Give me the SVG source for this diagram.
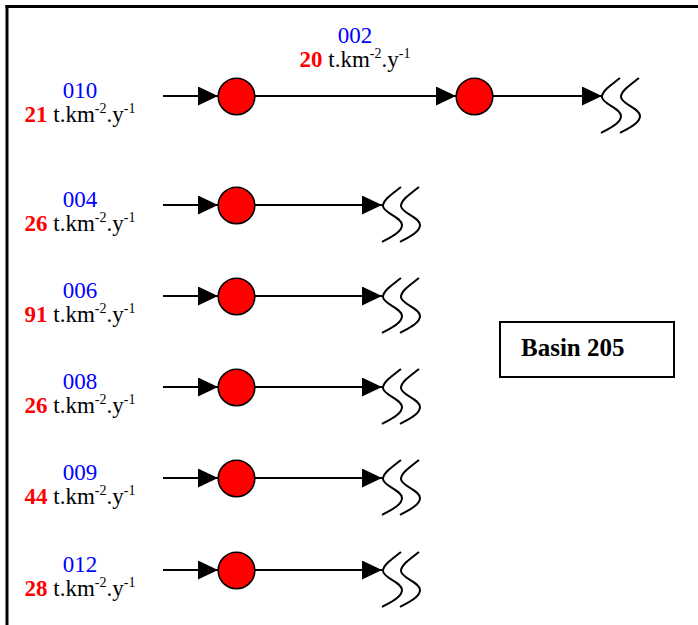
<svg xmlns="http://www.w3.org/2000/svg" width="698" height="625" viewBox="0 0 698 625">
<style>
.lbl{font-family:"Liberation Serif","Times New Roman",serif;font-size:23px;text-anchor:middle;fill:#000}
.id{fill:#0000ff}
.val{fill:#ff0000;font-weight:bold}
.sup{font-size:14px}
.ln{stroke:#000;stroke-width:2;fill:none}
.sq{stroke:#000;stroke-width:2;fill:none}
.node{fill:#ff0000;stroke:#000;stroke-width:1.6}
.box{fill:#fff;stroke:#000;stroke-width:2}
.bt{font-family:"Liberation Serif","Times New Roman",serif;font-size:25px;font-weight:bold;fill:#000}
</style>
<defs>
<marker id="ah" markerUnits="userSpaceOnUse" markerWidth="20" markerHeight="19" refX="20" refY="9.5" orient="auto">
<path d="M0,0 L20,9.5 L0,19 z" fill="#000"/>
</marker>
<path id="sq" d="M0,-18 C-10,-10 -18,-5 -18,1 C-18,8 1,12 1,20 C1,27 -10,32 -19,37"/>
</defs>
<rect width="698" height="625" fill="#fff"/>
<g id="frame">
<line x1="5.5" y1="6.5" x2="698" y2="6.5" stroke="#000" stroke-width="3"/>
<line x1="7" y1="5" x2="7" y2="625" stroke="#000" stroke-width="3"/>
</g>
<g id="connectors">
<line class="ln" x1="163" y1="96" x2="218" y2="96" marker-end="url(#ah)"/>
<line class="ln" x1="255" y1="96" x2="456" y2="96" marker-end="url(#ah)"/>
<line class="ln" x1="493" y1="96" x2="602" y2="96" marker-end="url(#ah)"/>
<line class="ln" x1="163" y1="205" x2="218" y2="205" marker-end="url(#ah)"/>
<line class="ln" x1="255" y1="205" x2="382" y2="205" marker-end="url(#ah)"/>
<line class="ln" x1="163" y1="296" x2="218" y2="296" marker-end="url(#ah)"/>
<line class="ln" x1="255" y1="296" x2="382" y2="296" marker-end="url(#ah)"/>
<line class="ln" x1="163" y1="387" x2="218" y2="387" marker-end="url(#ah)"/>
<line class="ln" x1="255" y1="387" x2="382" y2="387" marker-end="url(#ah)"/>
<line class="ln" x1="163" y1="478" x2="218" y2="478" marker-end="url(#ah)"/>
<line class="ln" x1="255" y1="478" x2="382" y2="478" marker-end="url(#ah)"/>
<line class="ln" x1="163" y1="570" x2="218" y2="570" marker-end="url(#ah)"/>
<line class="ln" x1="255" y1="570" x2="382" y2="570" marker-end="url(#ah)"/>
</g>
<g id="outlets">
<use href="#sq" class="sq" x="620" y="96"/><use href="#sq" class="sq" x="639" y="96"/>
<use href="#sq" class="sq" x="401" y="205"/><use href="#sq" class="sq" x="419" y="205"/>
<use href="#sq" class="sq" x="401" y="296"/><use href="#sq" class="sq" x="419" y="296"/>
<use href="#sq" class="sq" x="401" y="387"/><use href="#sq" class="sq" x="419" y="387"/>
<use href="#sq" class="sq" x="401" y="478"/><use href="#sq" class="sq" x="419" y="478"/>
<use href="#sq" class="sq" x="401" y="570"/><use href="#sq" class="sq" x="419" y="570"/>
</g>
<g id="n010">
<circle class="node" cx="236.5" cy="96.5" r="18.3"/>
<text class="lbl" x="80" y="98"><tspan class="id">010</tspan></text>
<text class="lbl" x="80" y="122"><tspan class="val">21</tspan> t.km<tspan class="sup" dy="-9">-2</tspan><tspan dy="9">.y</tspan><tspan class="sup" dy="-9">-1</tspan></text>
</g>
<g id="n002">
<circle class="node" cx="474.5" cy="96.5" r="18.3"/>
<text class="lbl" x="355" y="43"><tspan class="id">002</tspan></text>
<text class="lbl" x="355" y="67"><tspan class="val">20</tspan> t.km<tspan class="sup" dy="-9">-2</tspan><tspan dy="9">.y</tspan><tspan class="sup" dy="-9">-1</tspan></text>
</g>
<g id="n004">
<circle class="node" cx="236.5" cy="205.5" r="18.3"/>
<text class="lbl" x="80" y="207"><tspan class="id">004</tspan></text>
<text class="lbl" x="80" y="231"><tspan class="val">26</tspan> t.km<tspan class="sup" dy="-9">-2</tspan><tspan dy="9">.y</tspan><tspan class="sup" dy="-9">-1</tspan></text>
</g>
<g id="n006">
<circle class="node" cx="236.5" cy="296.5" r="18.3"/>
<text class="lbl" x="80" y="298"><tspan class="id">006</tspan></text>
<text class="lbl" x="80" y="322"><tspan class="val">91</tspan> t.km<tspan class="sup" dy="-9">-2</tspan><tspan dy="9">.y</tspan><tspan class="sup" dy="-9">-1</tspan></text>
</g>
<g id="n008">
<circle class="node" cx="236.5" cy="387.5" r="18.3"/>
<text class="lbl" x="80" y="389"><tspan class="id">008</tspan></text>
<text class="lbl" x="80" y="413"><tspan class="val">26</tspan> t.km<tspan class="sup" dy="-9">-2</tspan><tspan dy="9">.y</tspan><tspan class="sup" dy="-9">-1</tspan></text>
</g>
<g id="n009">
<circle class="node" cx="236.5" cy="478.5" r="18.3"/>
<text class="lbl" x="80" y="480"><tspan class="id">009</tspan></text>
<text class="lbl" x="80" y="504"><tspan class="val">44</tspan> t.km<tspan class="sup" dy="-9">-2</tspan><tspan dy="9">.y</tspan><tspan class="sup" dy="-9">-1</tspan></text>
</g>
<g id="n012">
<circle class="node" cx="236.5" cy="570.5" r="18.3"/>
<text class="lbl" x="80" y="572"><tspan class="id">012</tspan></text>
<text class="lbl" x="80" y="596"><tspan class="val">28</tspan> t.km<tspan class="sup" dy="-9">-2</tspan><tspan dy="9">.y</tspan><tspan class="sup" dy="-9">-1</tspan></text>
</g>
<g id="basin">
<rect class="box" x="500" y="322" width="174" height="55"/>
<text class="bt" x="521" y="356">Basin 205</text>
</g>
</svg>
